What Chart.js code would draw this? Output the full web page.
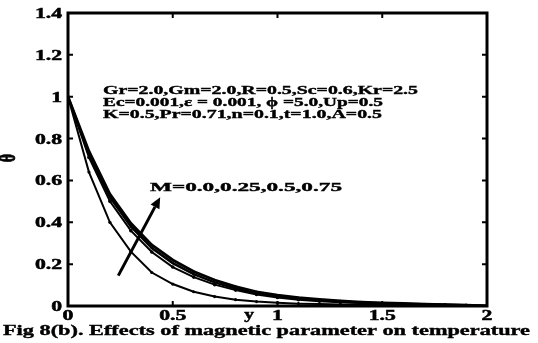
<!DOCTYPE html>
<html>
<head>
<meta charset="utf-8">
<script src="https://cdn.jsdelivr.net/npm/chart.js@4.4.1/dist/chart.umd.min.js"></script>
<style>
html,body{margin:0;padding:0;background:#fff;}
canvas{display:block;}
</style>
</head>
<body>
<canvas id="c" width="538" height="343"></canvas>
<script>
// ---- data ----
const xs = [0,0.1,0.2,0.3,0.4,0.5,0.6,0.7,0.8,0.9,1.0,1.1,1.2,1.3,1.4,1.5,1.6,1.7,1.8,1.9,2.0];
const thetaM0   = [1,0.64,0.40,0.26,0.16,0.105,0.068,0.045,0.030,0.021,0.015,0.011,0.009,0.007,0.006,0.005,0.004,0.003,0.002,0.001,0];
const thetaM025 = [1,0.71,0.50,0.36,0.258,0.186,0.138,0.102,0.076,0.055,0.041,0.030,0.023,0.018,0.014,0.011,0.009,0.007,0.005,0.003,0];
const thetaM05  = [1,0.725,0.52,0.38,0.277,0.205,0.152,0.113,0.084,0.063,0.047,0.035,0.027,0.021,0.016,0.013,0.010,0.008,0.006,0.003,0];
const thetaM075 = [1,0.74,0.535,0.395,0.292,0.22,0.165,0.124,0.093,0.068,0.052,0.040,0.031,0.024,0.019,0.015,0.012,0.009,0.006,0.004,0];
const xTicks = [0,0.5,1,1.5,2];
const xTickLabels = ["0","0.5","1","1.5","2"];
const yTicks = [0,0.2,0.4,0.6,0.8,1.0,1.2,1.4];
const yTickLabels = ["0","0.2","0.4","0.6","0.8","1","1.2","1.4"];
const paramLines = [
  "Gr=2.0,Gm=2.0,R=0.5,Sc=0.6,Kr=2.5",
  "Ec=0.001,\u03b5 = 0.001, \u03d5 =5.0,Up=0.5",
  "K=0.5,Pr=0.71,n=0.1,t=1.0,A=0.5"
];
const mLabel = "M=0.0,0.25,0.5,0.75";
const caption = "Fig 8(b). Effects of magnetic parameter on temperature";
const xTitle = "y";
const yTitle = "\u03b8";
const arrowFrom = [0.24, 0.145];
const arrowTo = [0.44, 0.52];

function pts(arr){ return xs.map((x,i)=>({x:x,y:arr[i]})); }

const SERIF = '"Liberation Serif", "Times New Roman", serif';

function drawStretched(ctx, text, x, y, size, sx, align){
  ctx.save();
  ctx.font = 'bold ' + size + 'px ' + SERIF;
  const w = ctx.measureText(text).width * sx;
  let left = x;
  if (align === 'center') left = x - w/2;
  else if (align === 'right') left = x - w;
  ctx.translate(left, y);
  ctx.scale(sx, 1);
  ctx.textAlign = 'left';
  ctx.textBaseline = 'alphabetic';
  ctx.lineWidth = 0.5;
  ctx.strokeText(text, 0, 0);
  ctx.fillText(text, 0, 0);
  ctx.restore();
}
function drawFit(ctx, text, left, y, size, width){
  ctx.save();
  ctx.font = 'bold ' + size + 'px ' + SERIF;
  const w = ctx.measureText(text).width;
  ctx.translate(left, y);
  ctx.scale(width / w, 1);
  ctx.textAlign = 'left';
  ctx.textBaseline = 'alphabetic';
  ctx.lineWidth = 0.4;
  ctx.strokeText(text, 0, 0);
  ctx.fillText(text, 0, 0);
  ctx.restore();
}

const decor = {
  id: 'decor',
  afterDraw(chart){
    const ctx = chart.ctx;
    const a = chart.chartArea;
    const xs_ = chart.scales.x, ys_ = chart.scales.y;
    ctx.save();
    ctx.fillStyle = '#000';
    ctx.strokeStyle = '#000';
    // box
    ctx.lineWidth = 3;
    ctx.strokeRect(a.left, a.top, a.right - a.left, a.bottom - a.top);
    // inward ticks
    ctx.lineWidth = 2;
    ctx.beginPath();
    yTicks.forEach(v => {
      const py = ys_.getPixelForValue(v);
      ctx.moveTo(a.left, py); ctx.lineTo(a.left + 5, py);
      ctx.moveTo(a.right, py); ctx.lineTo(a.right - 5, py);
    });
    xTicks.forEach(v => {
      const px = xs_.getPixelForValue(v);
      ctx.moveTo(px, a.bottom); ctx.lineTo(px, a.bottom - 5);
      ctx.moveTo(px, a.top); ctx.lineTo(px, a.top + 5);
    });
    ctx.stroke();
    // tick labels
    yTicks.forEach((v,i) => {
      const py = ys_.getPixelForValue(v);
      drawStretched(ctx, yTickLabels[i], a.left - 6, py + 5, 14, 1.55, 'right');
    });
    xTicks.forEach((v,i) => {
      const px = xs_.getPixelForValue(v);
      drawStretched(ctx, xTickLabels[i], px, a.bottom + 14, 14, 1.55, 'center');
    });
    // axis titles
    drawStretched(ctx, xTitle, xs_.getPixelForValue(0.864), a.bottom + 13, 15, 1.3, 'center');
    ctx.save();
    ctx.translate(15, 158);
    ctx.rotate(-Math.PI/2);
    ctx.scale(1, 1.4);
    ctx.font = 'bold 16px ' + SERIF;
    ctx.textAlign = 'center';
    ctx.textBaseline = 'alphabetic';
    ctx.lineWidth = 0.6;
    ctx.strokeText(yTitle, 0, 0);
    ctx.fillText(yTitle, 0, 0);
    ctx.restore();
    // parameter text
    drawFit(ctx, paramLines[0], 103, 94, 13, 315);
    drawFit(ctx, paramLines[1], 103, 106, 13, 280);
    drawFit(ctx, paramLines[2], 103, 118, 13, 279);
    drawFit(ctx, mLabel, 150, 191, 13, 192);
    // caption
    drawFit(ctx, caption, 3, 335, 15, 527);
    // arrow
    const x1 = xs_.getPixelForValue(arrowFrom[0]), y1 = ys_.getPixelForValue(arrowFrom[1]);
    const x2 = xs_.getPixelForValue(arrowTo[0]), y2 = ys_.getPixelForValue(arrowTo[1]);
    const ang = Math.atan2(y2 - y1, x2 - x1);
    const hl = 11, hw = 5;
    const bx = x2 - hl*Math.cos(ang), by = y2 - hl*Math.sin(ang);
    ctx.lineWidth = 3;
    ctx.beginPath();
    ctx.moveTo(x1, y1); ctx.lineTo(bx, by);
    ctx.stroke();
    ctx.beginPath();
    ctx.moveTo(x2, y2);
    ctx.lineTo(bx + hw*Math.sin(ang), by - hw*Math.cos(ang));
    ctx.lineTo(bx - hw*Math.sin(ang), by + hw*Math.cos(ang));
    ctx.closePath();
    ctx.fill();
    ctx.restore();
  }
};

function ds(arr, w, r){
  return {data: pts(arr), borderColor:'#000', backgroundColor:'#000', borderWidth:w,
          pointRadius:r, pointBorderWidth:0, pointBackgroundColor:'#000', tension:0, fill:false};
}

new Chart(document.getElementById('c'), {
  type: 'line',
  data: { datasets: [ ds(thetaM0,2,1.6), ds(thetaM025,2,1.8), ds(thetaM05,2.5,1.2), ds(thetaM075,2.8,1.2) ] },
  options: {
    responsive:false, animation:false,
    layout: { padding: { left:0, right:51, top:13, bottom:0 } },
    plugins: { legend:{display:false}, tooltip:{enabled:false}, title:{display:false} },
    scales: {
      x: { type:'linear', min:0, max:2,
           ticks:{display:false, stepSize:0.5}, grid:{display:false}, border:{display:false},
           afterFit: s => { s.height = 37; } },
      y: { type:'linear', min:0, max:1.4,
           ticks:{display:false, stepSize:0.2}, grid:{display:false}, border:{display:false},
           afterFit: s => { s.width = 68; } }
    }
  },
  plugins: [decor]
});
</script>
</body>
</html>
